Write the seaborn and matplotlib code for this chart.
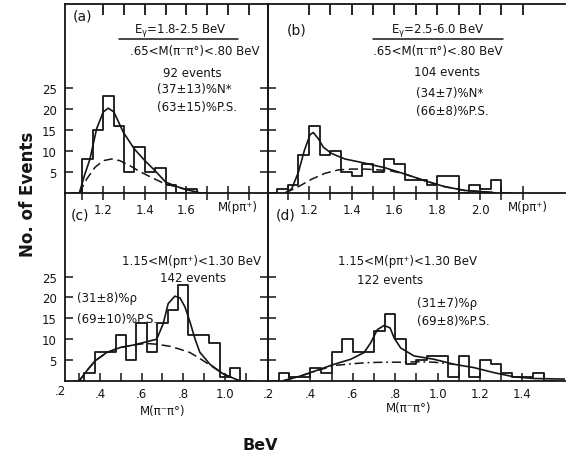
import matplotlib
matplotlib.use("Agg")
import matplotlib.pyplot as plt
from matplotlib.lines import Line2D
import numpy as np
import pandas as pd
import seaborn as sns

# ---------------- data ----------------
# (a) M(p pi+), E_gamma = 1.8-2.5 BeV
a_edges = [1.10, 1.15, 1.20, 1.25, 1.30, 1.35, 1.40, 1.45, 1.50, 1.55, 1.60, 1.65]
a_counts = [8, 15, 23, 16, 5, 11, 5, 6, 2, 0, 1]
a_fit_x = [1.085, 1.109, 1.136, 1.168, 1.200, 1.224, 1.251, 1.296, 1.349, 1.400, 1.449, 1.500, 1.550, 1.600, 1.650, 1.665]
a_fit_y = [0, 4.1, 8.1, 15.3, 19.3, 20.2, 19.3, 14.5, 10.5, 7.7, 5.3, 2.6, 1.6, 0.8, 0.2, 0]
a_ps_x = [1.085, 1.120, 1.160, 1.200, 1.240, 1.280, 1.328, 1.376, 1.440, 1.500, 1.550, 1.600, 1.650, 1.665]
a_ps_y = [0, 3.3, 6.1, 7.7, 8.1, 7.7, 6.5, 5.1, 3.5, 2.1, 1.5, 0.8, 0.2, 0]

# (b) M(p pi+), E_gamma = 2.5-6.0 BeV
b_edges = [1.05, 1.10, 1.15, 1.20, 1.25, 1.30, 1.35, 1.40, 1.45, 1.50, 1.55,
           1.60, 1.65, 1.70, 1.75, 1.80, 1.85, 1.90, 1.95, 2.00, 2.05, 2.10]
b_counts = [1, 2, 9, 16, 9, 10, 5, 4, 7, 5, 8, 7, 3, 3, 2, 4, 4, 0, 2, 1, 3]
b_fit_x = [1.088, 1.119, 1.150, 1.178, 1.205, 1.220, 1.244, 1.267, 1.306, 1.368, 1.462, 1.556, 1.650, 1.743, 1.836, 1.930, 2.055, 2.070]
b_fit_y = [0, 1.0, 4.9, 10.1, 13.9, 14.4, 12.9, 10.9, 9.4, 8.1, 7.1, 6.0, 4.5, 2.9, 1.5, 0.6, 0.15, 0]
b_ps_x = [1.088, 1.150, 1.213, 1.275, 1.337, 1.400, 1.462, 1.524, 1.580, 1.650, 1.743, 1.836, 1.930, 2.055, 2.070]
b_ps_y = [0, 1.5, 3.3, 4.7, 5.5, 5.7, 5.7, 5.5, 5.3, 4.5, 2.9, 1.5, 0.6, 0.15, 0]

# (c) M(pi- pi0), 1.15 < M(p pi+) < 1.30, E_gamma = 1.8-2.5 BeV
c_edges = [0.325, 0.375, 0.425, 0.475, 0.525, 0.575, 0.625, 0.675, 0.725,
           0.775, 0.825, 0.875, 0.925, 0.975, 1.025, 1.075]
c_counts = [2, 7, 7, 11, 5, 14, 7, 14, 17, 23, 11, 11, 9, 1, 3]
c_fit_x = [0.300, 0.336, 0.376, 0.432, 0.496, 0.560, 0.625, 0.673, 0.704, 0.728, 0.760, 0.785, 0.809, 0.833, 0.857, 0.880, 0.929, 0.993, 1.073]
c_fit_y = [0, 2.4, 4.8, 6.8, 8.0, 8.6, 9.4, 10.0, 13.7, 18.5, 20.3, 19.9, 17.7, 14.1, 10.1, 6.9, 4.0, 1.7, 0]
c_ps_x = [0.300, 0.336, 0.376, 0.432, 0.496, 0.560, 0.620, 0.673, 0.737, 0.785, 0.833, 0.880, 0.929, 0.993, 1.073]
c_ps_y = [0, 2.4, 4.8, 6.8, 8.0, 8.6, 9.0, 8.8, 8.3, 7.6, 6.8, 5.4, 3.8, 1.7, 0]

# (d) M(pi- pi0), 1.15 < M(p pi+) < 1.30, E_gamma = 2.5-6.0 BeV
d_edges = [0.25, 0.30, 0.35, 0.40, 0.45, 0.50, 0.55, 0.60, 0.65, 0.70, 0.75, 0.80, 0.85,
           0.90, 0.95, 1.00, 1.05, 1.10, 1.15, 1.20, 1.25, 1.30, 1.35, 1.40, 1.45, 1.50]
d_counts = [2, 1, 1, 3, 2, 7, 10, 7, 7, 12, 16, 10, 4, 5, 6, 6, 1, 6, 1, 5, 4, 2, 1, 1, 2]
d_fit_x = [0.268, 0.354, 0.433, 0.512, 0.590, 0.653, 0.684, 0.716, 0.748, 0.776, 0.795, 0.826, 0.889, 0.983, 1.078, 1.172, 1.266, 1.360, 1.455, 1.600]
d_fit_y = [0, 1.2, 2.6, 4.0, 5.2, 6.8, 9.1, 12.3, 13.3, 12.7, 10.3, 7.9, 6.0, 5.2, 4.0, 3.2, 2.0, 1.0, 0.6, 0.45]
d_ps_x = [0.268, 0.354, 0.433, 0.512, 0.590, 0.669, 0.750, 0.826, 0.900, 0.983, 1.078]
d_ps_y = [0, 1.2, 2.5, 3.7, 4.1, 4.4, 4.5, 4.5, 4.6, 4.5, 4.0]

# tick labels
y_ticks = [5, 10, 15, 20, 25]
y_ticklabels = ["5", "10", "15", "20", "25"]
a_xticks = [1.2, 1.4, 1.6]
a_xticklabels = ["1.2", "1.4", "1.6"]
a_xminor = [1.1, 1.3, 1.5, 1.7, 1.8, 1.9]
a_topticks = [1.2, 1.3, 1.4, 1.5, 1.6, 1.7, 1.8, 1.9]
b_xticks = [1.2, 1.4, 1.6, 1.8, 2.0]
b_xticklabels = ["1.2", "1.4", "1.6", "1.8", "2.0"]
b_xminor = [1.1, 1.3, 1.5, 1.7, 1.9, 2.1, 2.2]
b_topticks = [1.2, 1.3, 1.4, 1.5, 1.6, 1.7, 1.8, 1.9, 2.0, 2.1, 2.2]
c_xticks = [0.4, 0.6, 0.8, 1.0]
c_xticklabels = [".4", ".6", ".8", "1.0"]
c_xminor = [0.3, 0.5, 0.7, 0.9, 1.1]
d_xticks = [0.2, 0.4, 0.6, 0.8, 1.0, 1.2, 1.4]
d_xticklabels = [".2", ".4", ".6", ".8", "1.0", "1.2", "1.4"]
d_xminor = [0.3, 0.5, 0.7, 0.9, 1.1, 1.3, 1.5]

# ---------------- figure ----------------
sns.set_style("ticks")
plt.rcParams["font.family"] = ["DejaVu Sans"]
plt.rcParams["mathtext.default"] = "regular"
plt.rcParams["axes.linewidth"] = 1.3

W, H = 575, 456
fig = plt.figure(figsize=(W / 100, H / 100), dpi=100)
INK = "#151515"


def box(l, t, r, b):
    return [l / W, 1 - b / H, (r - l) / W, (b - t) / H]


def T(px, py, s, ha="center", va="center", size=8.5, **kw):
    fig.text(px / W, 1 - py / H, s, ha=ha, va=va, fontsize=size, color=INK, **kw)


axa = fig.add_axes(box(65, 5, 268, 194))
axb = fig.add_axes(box(268, 5, 565, 194))
axc = fig.add_axes(box(65, 194, 268, 382))
axd = fig.add_axes(box(268, 194, 565, 382))


def draw_hist(ax, edges, counts):
    e = [float(v) for v in edges]
    w = e[1] - e[0]
    e = [e[0] - w] + e + [e[-1] + w]
    c = [0.0] + [float(v) for v in counts] + [0.0]
    centers = [(e[i] + e[i + 1]) / 2 for i in range(len(c))]
    df = pd.DataFrame({"m": centers, "n": c})
    sns.histplot(data=df, x="m", weights="n", bins=e, element="step", fill=False,
                 color=INK, linewidth=1.3, ax=ax)


def draw_curves(ax, fx, fy, px, py, ps_style):
    sns.lineplot(x=fx, y=fy, sort=False, estimator=None, color=INK,
                 linewidth=1.2, ax=ax)
    sns.lineplot(x=px, y=py, sort=False, estimator=None, color=INK,
                 linewidth=1.1, linestyle=ps_style, ax=ax)


draw_hist(axa, a_edges, a_counts)
draw_curves(axa, a_fit_x, a_fit_y, a_ps_x, a_ps_y, (0, (6, 3)))
draw_hist(axb, b_edges, b_counts)
draw_curves(axb, b_fit_x, b_fit_y, b_ps_x, b_ps_y, (0, (6, 3)))
draw_hist(axc, c_edges, c_counts)
draw_curves(axc, c_fit_x, c_fit_y, c_ps_x, c_ps_y, (0, (6, 3)))
draw_hist(axd, d_edges, d_counts)
draw_curves(axd, d_fit_x, d_fit_y, d_ps_x, d_ps_y, (0, (6, 2.5, 1.2, 2.5)))

limits = {axa: (1.016, 1.992), axb: (1.008, 2.398), axc: (0.232, 1.208), axd: (0.200, 1.601)}
xt = {axa: (a_xticks, a_xticklabels, a_xminor),
      axb: (b_xticks, b_xticklabels, b_xminor),
      axc: (c_xticks, c_xticklabels, c_xminor),
      axd: (d_xticks, d_xticklabels, d_xminor)}

for ax in (axa, axb, axc, axd):
    ax.set_xlim(*limits[ax])
    ax.set_ylim(0, 45)
    ax.set_xlabel("")
    ax.set_ylabel("")
    ax.set_facecolor("none")
    ticks, labels, minor = xt[ax]
    ax.set_xticks(ticks)
    ax.set_xticklabels(labels)
    ax.set_xticks(minor, minor=True)
    ax.set_yticks(y_ticks)
    for s in ax.spines.values():
        s.set_color(INK)
        s.set_linewidth(1.3)

# spines
axb.spines["right"].set_visible(False)
axc.spines["top"].set_visible(False)
axd.spines["top"].set_visible(False)
axd.spines["right"].set_visible(False)

# y ticks
for ax in (axa, axc):
    ax.set_yticklabels(y_ticklabels)
    ax.tick_params(axis="y", which="major", direction="in", length=6, width=1.1,
                   left=True, right=True, labelleft=True, labelsize=8.5, pad=6,
                   color=INK, labelcolor=INK)
for ax in (axb, axd):
    ax.tick_params(axis="y", which="major", direction="in", length=6, width=1.1,
                   left=True, right=False, labelleft=False, color=INK)

# x ticks: bottom crossing the axis
for ax in (axa, axb):
    ax.tick_params(axis="x", which="both", direction="inout", length=10, width=1.1,
                   bottom=True, top=False, labelsize=8.5, pad=2,
                   color=INK, labelcolor=INK)
for ax in (axc, axd):
    ax.tick_params(axis="x", which="both", direction="in", length=6, width=1.1,
                   bottom=True, top=False, labelsize=8.5, pad=4, color=INK, labelcolor=INK)

# top-edge ticks of the upper panels, pointing down into the panel
for ax, tt in ((axa, a_topticks), (axb, b_topticks)):
    ax.vlines(tt, 0.94, 1.0, transform=ax.get_xaxis_transform(),
              colors=INK, linewidth=1.3, clip_on=False, zorder=5)

# ---------------- texts ----------------
T(82, 16, "(a)", size=10)
T(297, 31, "(b)", size=10)
T(80, 216, "(c)", size=10)
T(286, 216, "(d)", size=10)

# panel (a)
T(180, 31, r"E$_\gamma$=1.8-2.5 BeV")
fig.add_artist(Line2D([119 / W, 238 / W], [1 - 40 / H] * 2, color=INK, lw=1.1))
T(195, 52, ".65<M(π⁻π°)<.80 BeV")
T(192, 74, "92 events")
T(157, 90, "(37±13)%N*", ha="left")
T(157, 108, "(63±15)%P.S.", ha="left")
T(238, 208, "M(pπ⁺)")

# panel (b)
T(438, 31, r"E$_\gamma$=2.5-6.0 BeV")
fig.add_artist(Line2D([373 / W, 503 / W], [1 - 40 / H] * 2, color=INK, lw=1.1))
T(438, 52, ".65<M(π⁻π°)<.80 BeV")
T(447, 73, "104 events")
T(416, 94, "(34±7)%N*", ha="left")
T(416, 111, "(66±8)%P.S.", ha="left")
T(528, 208, "M(pπ⁺)")

# panel (c)
T(191, 262, "1.15<M(pπ⁺)<1.30 BeV")
T(193, 278, "142 events")
T(77, 299, "(31±8)%ρ", ha="left")
T(77, 320, "(69±10)%P.S.", ha="left")
T(60, 392, ".2")
T(163, 412, "M(π⁻π°)")

# panel (d)
T(407, 262, "1.15<M(pπ⁺)<1.30 BeV")
T(390, 280, "122 events")
T(417, 304, "(31±7)%ρ", ha="left")
T(417, 322, "(69±8)%P.S.", ha="left")
T(409, 409, "M(π⁻π°)")

# axis titles
T(28, 194, "No. of Events", size=12, rotation=90, fontweight="bold")
T(260, 446, "BeV", size=11.5, fontweight="bold")

fig.savefig("out.png", dpi=100, facecolor="white")
